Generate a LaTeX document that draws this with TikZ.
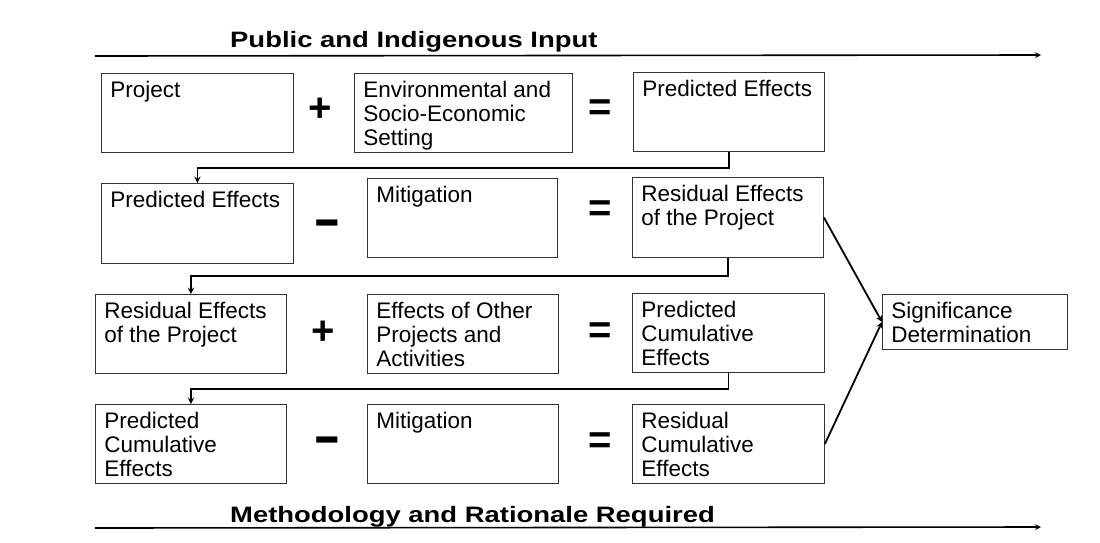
\documentclass[tikz,border=0pt]{standalone}
\usepackage{fontspec}
\setmainfont{Liberation Sans}
\newfontfamily\headfont{Liberation Sans}[FakeStretch=1.23]
\newfontfamily\minusfont{Liberation Sans}[FakeStretch=1.6]
\usetikzlibrary{arrows, positioning, arrows.meta}

% box text: width and height of the box, text set at its top left
\newcommand{\stagetext}[3]{\parbox[c][#2pt][t]{\dimexpr#1pt-18pt\relax}{\vspace*{7pt}\strut #3}}

\begin{document}
\begin{tikzpicture}[x=1pt, y=-1pt, >=stealth,
    stage/.style={draw=black!80, line width=0.9pt, inner xsep=9pt, inner ysep=0pt, anchor=north west,
      font=\fontsize{22.5}{24}\selectfont},
    op/.style={inner sep=0pt, font=\fontsize{40}{40}\selectfont\bfseries},
    minus/.style={inner sep=0pt, font=\minusfont\fontsize{52}{52}\selectfont\bfseries},
    head/.style={inner sep=0pt, anchor=base west, font=\headfont\fontsize{22.3}{26}\selectfont\bfseries},
    link/.style={->, line width=1.8pt}]
  \useasboundingbox (0,0) rectangle (1100,542);

  \node[head] (input) at (230,47) {Public and Indigenous Input};
  \coordinate (inL) at (95,56); \coordinate (inR) at (1041,55);
  \draw[->, line width=1.6pt] (inL) -- (inR);

  \node[stage] (proj) at (101,73) {\stagetext{192}{79}{Project}};
  \node[op] (plusA) at (320,110) {+};
  \node[stage] (env) at (354,73) {\stagetext{218}{79}{Environmental and\\Socio-Economic\\Setting}};
  \node[op] (eqA) at (600,110) {=};
  \node[stage] (pe) at (633,72) {\stagetext{191}{79}{Predicted Effects}};

  \node[stage] (pe2) at (101,183) {\stagetext{192}{80}{Predicted Effects}};
  \node[minus] (minA) at (327,228) {-};
  \node[stage] (mitA) at (367,178) {\stagetext{190}{79}{Mitigation}};
  \node[op] (eqB) at (600,211) {=};
  \node[stage] (res) at (632,177) {\stagetext{191}{80}{Residual Effects\\of the Project}};

  \node[stage] (res2) at (95,294) {\stagetext{191}{79}{Residual Effects\\of the Project}};
  \node[op] (plusB) at (323,333) {+};
  \node[stage] (other) at (367,294) {\stagetext{191}{79}{Effects of Other\\Projects and\\Activities}};
  \node[op] (eqC) at (600,333) {=};
  \node[stage] (pcum) at (632,293) {\stagetext{192}{79}{Predicted\\Cumulative\\Effects}};

  \node[stage] (pcum2) at (95,404) {\stagetext{191}{79}{Predicted\\Cumulative\\Effects}};
  \node[minus] (minB) at (327,445) {-};
  \node[stage] (mitB) at (367,404) {\stagetext{191}{79}{Mitigation}};
  \node[op] (eqD) at (600,443) {=};
  \node[stage] (rcum) at (632,404) {\stagetext{192}{79}{Residual\\Cumulative\\Effects}};

  \node[stage] (sig) at (882,294) {\stagetext{185}{55}{Significance\\Determination}};

  \draw[link] (pe.south) -- ++(0,16) -| (pe2.north);
  \draw[link] (res.south) -- ++(0,18) -| (res2.north);
  \draw[link] (pcum.south) -- ++(0,16) -| (pcum2.north);
  \draw[link] (res.east) -- (sig.west);
  \draw[link] (rcum.east) -- (sig.west);

  \node[head] (method) at (230,522) {Methodology and Rationale Required};
  \coordinate (mrL) at (95,528); \coordinate (mrR) at (1041,527);
  \draw[->, line width=1.6pt] (mrL) -- (mrR);
\end{tikzpicture}
\end{document}
